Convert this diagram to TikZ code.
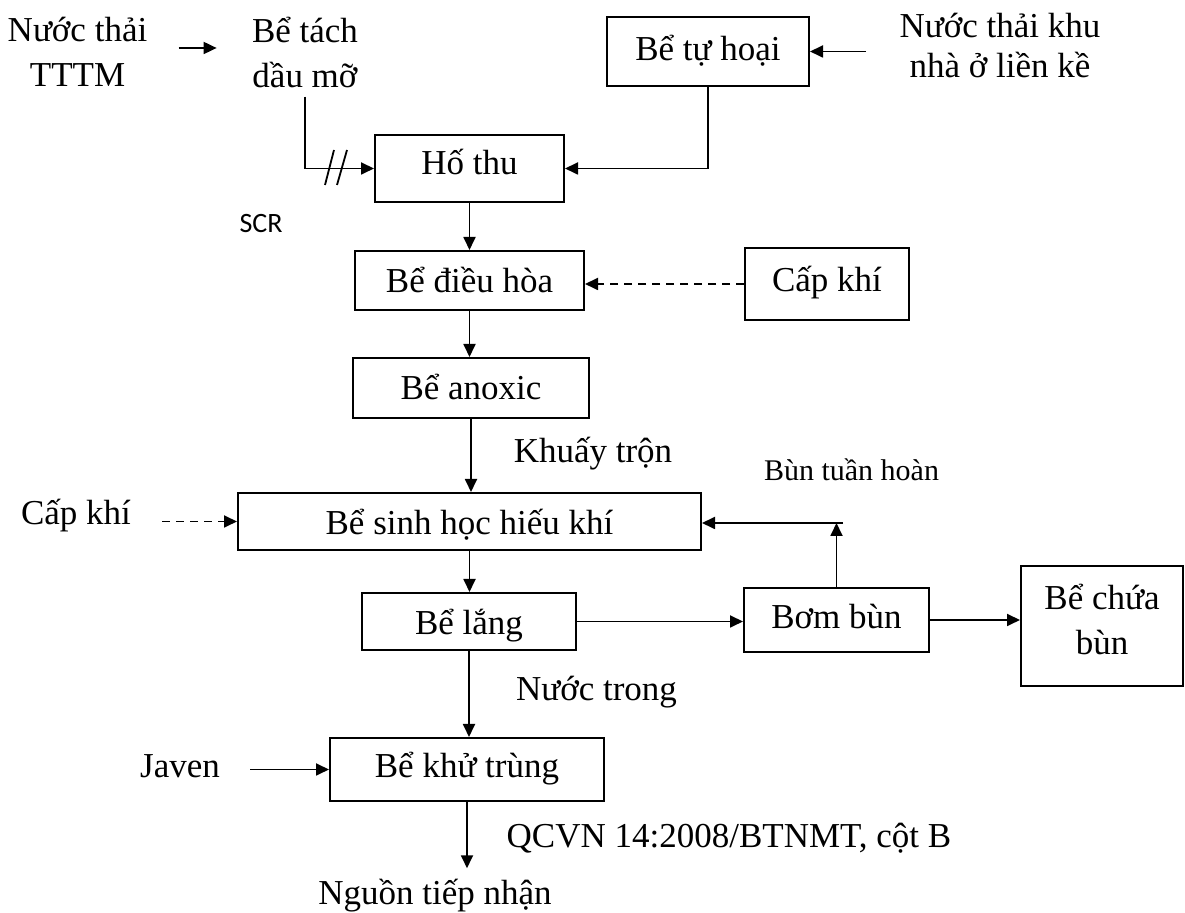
\documentclass[tikz,border=0pt]{standalone}
\usepackage{fontspec}
\setmainfont{Liberation Serif}
\newfontfamily\scrfont{Carlito}
\usetikzlibrary{arrows.meta}
\newcommand\mlines[1]{\vtop{\halign{\hfil##\hfil\cr#1\crcr}}}
\begin{document}
\begin{tikzpicture}[x=0.5pt,y=-0.5pt,
  every node/.style={font=\fontsize{17.5}{22.5}\selectfont, inner sep=0pt},
  box/.style={draw, line width=1pt, text height=13pt, text depth=3pt, anchor=center},
  lbl/.style={anchor=base},
  arr/.style={line width=0.9pt, -{Triangle[length=6.5pt,width=6pt]}},
  dsh/.style={dash pattern=on 4pt off 3pt}
]
\useasboundingbox (0,0) rectangle (1185,913);

% boxes
\node[box, minimum width=101pt, minimum height=34.5pt, text depth=3.5pt] (tuhoai) at (708,51.5) {Bể tự hoại};
\node[box, minimum width=94.5pt, minimum height=33.5pt, text depth=6.5pt] (hothu) at (469.5,168.5) {Hố thu};
\node[box, minimum width=114.5pt, minimum height=29.5pt, text depth=0.5pt] (dieuhoa) at (469.5,280.5) {Bể điều hòa};
\node[box, minimum width=82pt, minimum height=36pt, text depth=5pt] (capkhi) at (827,284) {Cấp khí};
\node[box, minimum width=118pt, minimum height=30pt, text depth=1pt] (anoxic) at (471,388) {Bể anoxic};
\node[box, minimum width=231.5pt, minimum height=28.5pt, text depth=0pt] (sinhhoc) at (469.5,521.5) {Bể sinh học hiếu khí};
\node[box, minimum width=107pt, minimum height=28.5pt, text depth=0pt] (lang) at (469,621.5) {Bể lắng};
\node[box, minimum width=92.5pt, minimum height=32pt, text depth=4pt] (bombun) at (836.5,620) {Bơm bùn};
\node[box, minimum width=81pt, minimum height=60pt, text height=14pt, text depth=30pt] (chua) at (1102,626) {\mlines{Bể chứa\cr bùn}};
\node[box, minimum width=137pt, minimum height=31.5pt, text depth=4.5pt] (khutrung) at (467,769.5) {Bể khử trùng};

% text labels
\node[lbl] (tttm) at (77.5,42) {\mlines{Nước thải\cr TTTM}};
\node[lbl] (tach) at (305,43) {\mlines{Bể tách\cr dầu mỡ}};
\node[lbl, font=\fontsize{17.5}{20}\selectfont] (khu) at (1000,38) {\mlines{Nước thải khu\cr nhà ở liền kề}};
\node[lbl, font=\scrfont\fontsize{14}{16}\selectfont] (scr) at (261,233) {SCR};
\node[lbl] (caplk) at (76,525) {Cấp khí};
\node[lbl] (khuay) at (593,463) {Khuấy trộn};
\node[lbl, font=\fontsize{15}{18}\selectfont] (buntuan) at (851.5,481) {Bùn tuần hoàn};
\node[lbl] (nuoctrong) at (596.5,701) {Nước trong};
\node[lbl] (javen) at (180,778) {Javen};
\node[lbl] (qcvn) at (729,848) {QCVN 14:2008/BTNMT, cột B};
\node[lbl] (nguon) at (435,905) {Nguồn tiếp nhận};

% connectors
\draw[arr, shorten <=15.5pt, shorten >=17.5pt] (tttm.east |- 0,48) -- (tach.west |- 0,48);
\draw[arr, shorten <=4pt] (tach.south) |- (hothu.west);
\draw[line width=0.9pt] (334,150) -- (325,185) (347,150) -- (337,185);
\draw[arr] (tuhoai.south) |- (hothu.east);
\draw[arr, shorten <=16.5pt] (khu.west |- tuhoai.east) -- (tuhoai.east);
\draw[arr] (hothu.south) -- (dieuhoa.north);
\draw[arr, dsh] (capkhi.west) -- (dieuhoa.east |- capkhi.west);
\draw[arr] (dieuhoa.south) -- (dieuhoa.south |- anoxic.north);
\draw[arr] (anoxic.south) -- (anoxic.south |- sinhhoc.north);
\draw[arr, dsh, shorten <=15.5pt] (caplk.east |- sinhhoc.west) -- (sinhhoc.west);
\draw[arr] (sinhhoc.south) -- (sinhhoc.south |- lang.north);
\draw[arr] (lang.east) -- (bombun.west |- lang.east);
\draw[arr] (bombun.east) -- (chua.west |- bombun.east);
\coordinate (ret) at (837,523);
\coordinate (ret2) at (843,523);
\draw[arr] (bombun.north) -- (bombun.north |- ret);
\draw[arr] (ret2) -- (sinhhoc.east |- ret2);
\draw[arr] (lang.south) -- (lang.south |- khutrung.north);
\draw[arr, shorten <=15pt] (javen.east |- khutrung.west) -- (khutrung.west);
\draw[arr, shorten >=5.5pt] (khutrung.south) -- (khutrung.south |- nguon.north);
\end{tikzpicture}
\end{document}
